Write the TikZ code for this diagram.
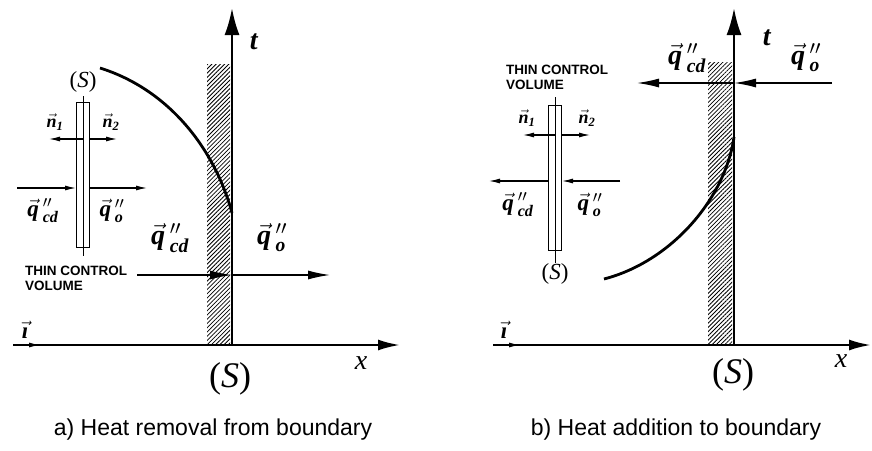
\documentclass[tikz,border=0pt]{standalone}
\usepackage{fix-cm}
\usepackage{amsmath}
\usepackage{fontspec}
\setmainfont{Liberation Serif}
\setsansfont{Liberation Sans}
\usepackage{tikz}
\usetikzlibrary{arrows.meta,positioning,patterns.meta}
\tikzset{
  axis/.style={line width=2.4pt,-{Latex[length=22pt,width=11pt]}},
  taxis/.style={line width=2.4pt,-{Latex[length=27pt,width=15pt]}},
  flux/.style={line width=1.4pt,-{Latex[length=22pt,width=9pt]}},
  sflux/.style={line width=1.1pt,-{Latex[length=11pt,width=5pt]}},
  front/.style={line width=2.8pt},
  wall/.style={pattern={Lines[angle=45,distance=3pt,line width=0.8pt]}},
  cvbox/.style={draw,line width=1pt,fill=white,minimum width=13pt,
                minimum height=145pt,inner sep=0pt},
  lhuge/.style={font=\fontsize{36}{38}\selectfont,inner sep=0pt},
  lbig/.style={font=\fontsize{28}{30}\selectfont,inner sep=0pt},
  lmid/.style={font=\fontsize{23}{25}\selectfont,inner sep=0pt},
  lsml/.style={font=\fontsize{18}{20}\selectfont,inner sep=0pt},
  tcv/.style={font=\fontsize{13.5}{15}\selectfont\sffamily\bfseries,
              align=left,inner sep=0pt},
  capt/.style={font=\fontsize{23}{26}\selectfont\sffamily,inner sep=0pt},
}
\newcommand{\bi}[1]{\text{\bfseries\itshape #1}}
\newcommand{\qcd}{$\vec{\bi{q}}\,''_{\bi{cd}}$}
\newcommand{\qo}{$\vec{\bi{q}}\,''_{\bi{o}}$}

\begin{document}
\begin{tikzpicture}[x=1pt,y=-1pt]
  \useasboundingbox (0,0) rectangle (872,450);

  % --- a) axes and boundary -----------------------------------------------
  \coordinate (oa) at (232,345);
  \coordinate (ta) at (232,8);
  \coordinate (xa0) at (13,345);
  \coordinate (xa1) at (400,345);
  \coordinate (ia) at (40,345);
  \fill[wall] (207,64) rectangle (230,343);
  \draw[axis] (xa0) -- (xa1);
  \draw[sflux] (xa0) -- (ia);
  \draw[taxis] (oa) -- (ta);
  \node[lbig] (tla) at (254,42) {\textbf{\textit{t}}};
  \node[lbig] (xla) at (361,363) {\textit{x}};
  \node[lhuge] (sa) at (230,379) {(\textit{S})};
  \node[lmid] (ila) at (25,330) {$\vec{\bi{\i}}$};

  % front
  \draw[front] (100,68) .. controls (170,90) and (215,150) .. (232,213);

  % --- a) thin control volume --------------------------------------------
  \node[cvbox] (cva) at (83,175) {};
  \draw[line width=0.6pt] ([yshift=6pt]cva.north) -- ([yshift=-8pt]cva.south);
  \node[lmid,above=9pt of cva] (csa) {(\textit{S})};
  \coordinate (n1a) at (49,139);
  \coordinate (n2a) at (117,139);
  \draw[sflux] (cva.center|-n1a) -- (n1a);
  \draw[sflux] (cva.east|-n2a) -- (n2a);
  \node[lsml] at (55,122) {$\vec{\bi{n}}_{\bi{1}}$};
  \node[lsml] at (111,122) {$\vec{\bi{n}}_{\bi{2}}$};
  \coordinate (qia) at (17,188);
  \coordinate (qoa) at (147,188);
  \draw[sflux] (qia) -- (cva.west|-qia);
  \draw[sflux] (cva.east|-qoa) -- (qoa);
  \node[lmid] at (43,211) {\qcd};
  \node[lmid] at (112,211) {\qo};
  \node[tcv,anchor=north west] (tcva) at (25,266) {THIN CONTROL\\VOLUME};

  % fluxes at the boundary
  \coordinate (fa0) at (137,275);
  \coordinate (fa1) at (330,275);
  \draw[flux] (fa0) -- (ta|-fa0);
  \draw[flux] (ta|-fa0) -- (fa1);
  \node[lbig] at (170,238) {\qcd};
  \node[lbig] at (272,238) {\qo};

  \node[capt] (capa) at (213,430) {a) Heat removal from boundary};

  % --- b) axes and boundary -----------------------------------------------
  \coordinate (ob) at (734,345);
  \coordinate (tb) at (734,8);
  \coordinate (xb0) at (493,345);
  \coordinate (xb1) at (871,345);
  \coordinate (ib) at (520,345);
  \fill[wall] (708,62) rectangle (732,343);
  \draw[axis] (xb0) -- (xb1);
  \draw[sflux] (xb0) -- (ib);
  \draw[taxis] (ob) -- (tb);
  \node[lbig] (tlb) at (767,38) {\textbf{\textit{t}}};
  \node[lbig] (xlb) at (841,361) {\textit{x}};
  \node[lhuge] (sb) at (733,375) {(\textit{S})};
  \node[lmid] (ilb) at (504,330) {$\vec{\bi{\i}}$};

  % front
  \draw[front] (604,279) .. controls (670,262) and (725,200) .. (734,137);

  % --- b) thin control volume --------------------------------------------
  \node[cvbox] (cvb) at (555,178) {};
  \draw[line width=0.6pt] ([yshift=8pt]cvb.north) -- ([yshift=-12pt]cvb.south);
  \node[lmid,below=12pt of cvb] (csb) {(\textit{S})};
  \coordinate (n1b) at (523,135);
  \coordinate (n2b) at (590,135);
  \draw[sflux] (cvb.center|-n1b) -- (n1b);
  \draw[sflux] (cvb.east|-n2b) -- (n2b);
  \node[lsml] at (527,118) {$\vec{\bi{n}}_{\bi{1}}$};
  \node[lsml] at (587,118) {$\vec{\bi{n}}_{\bi{2}}$};
  \coordinate (qib) at (620,181);
  \coordinate (qob) at (489,181);
  \draw[sflux] (qib) -- (cvb.east|-qib);
  \draw[sflux] (cvb.west|-qob) -- (qob);
  \node[lmid] at (518,205) {\qcd};
  \node[lmid] at (590,205) {\qo};
  \node[tcv,anchor=north west] (tcvb) at (506,65) {THIN CONTROL\\VOLUME};

  % fluxes at the boundary
  \coordinate (fb0) at (832,83);
  \coordinate (fb1) at (637,83);
  \draw[flux] (fb0) -- (tb|-fb0);
  \draw[flux] (tb|-fb0) -- (fb1);
  \node[lbig] at (687,58) {\qcd};
  \node[lbig] at (806,58) {\qo};

  \node[capt] (capb) at (676,430) {b) Heat addition to boundary};
\end{tikzpicture}
\end{document}
